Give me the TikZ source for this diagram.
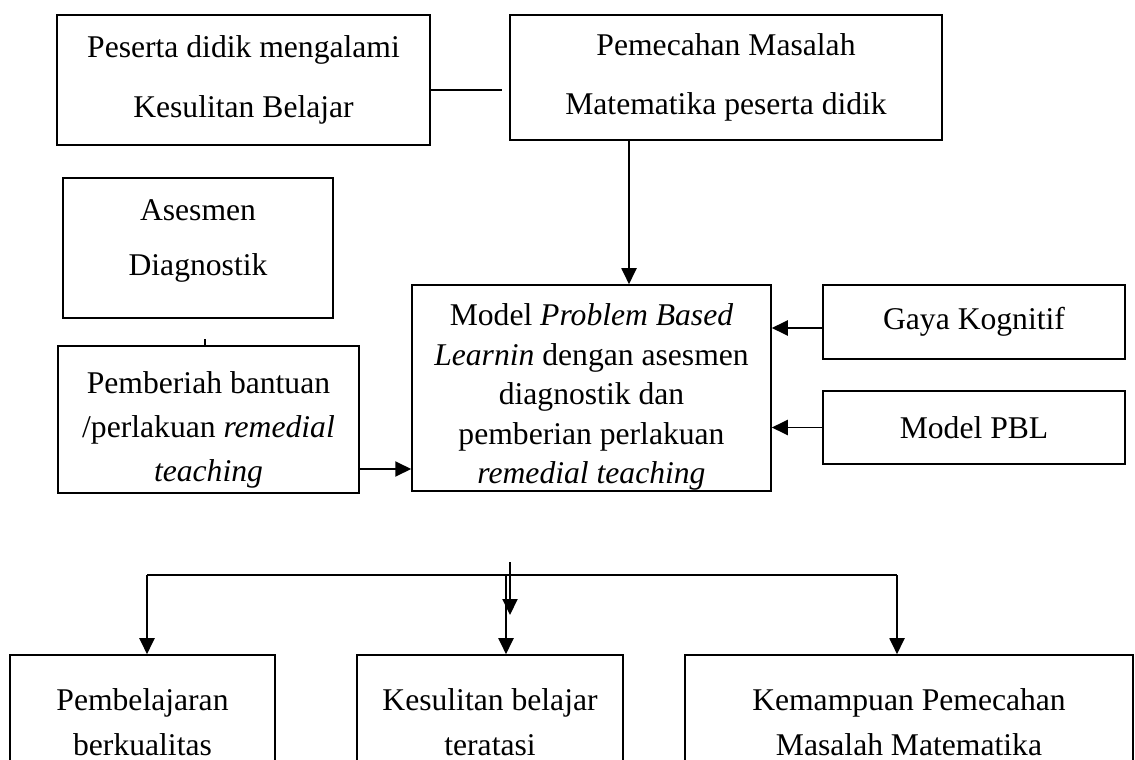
\documentclass[tikz,border=0pt]{standalone}
\usepackage{fontspec}
\setmainfont{Liberation Serif}
\usetikzlibrary{arrows.meta,positioning,calc}

\begin{document}
\begin{tikzpicture}[x=0.02cm,y=-0.02cm,
  box/.style={draw,line width=0.9pt,align=center,inner sep=0pt},
  txt/.style={font=\fontsize{18}{#1}\selectfont},
  inner/.style={txt=#1,align=center},
  lin/.style={line width=1.1pt},
  arr/.style={lin,-{Triangle[length=0.32cm,width=0.3cm]}}]
  \useasboundingbox (0,0) rectangle (1135,760);
  % top row
  \node[box,txt=34pt,minimum width=7.46cm,minimum height=2.6cm] (sulit) at (243.5,80) {Peserta didik mengalami\\Kesulitan Belajar};
  \node[box,txt=34pt,minimum width=8.64cm,minimum height=2.5cm] (masalah) at (726,77.5) {Pemecahan Masalah\\Matematika peserta didik};
  % left column
  \node[box,minimum width=5.4cm,minimum height=2.8cm,
    label={[inner=31pt,yshift=0.14cm]center:{Asesmen\\Diagnostik}}] (asesmen) at (198,248) {};
  \node[box,minimum width=6.02cm,minimum height=2.94cm,
    label={[inner=25pt,yshift=-0.2cm]center:{Pemberiah bantuan\\/perlakuan \textit{remedial}\\\textit{teaching}}}] (bantuan) at (208.5,419.5) {};
  % centre and right
  \node[box,minimum width=7.18cm,minimum height=4.12cm,
    label={[inner=22.5pt,yshift=-0.18cm]center:{Model \textit{Problem Based}\\\textit{Learnin} dengan asesmen\\diagnostik dan\\pemberian perlakuan\\\textit{remedial teaching}}}] (model) at (591.5,388) {};
  \node[box,txt=22pt,minimum width=6.04cm,minimum height=1.48cm] (gaya) at (974,322) {Gaya Kognitif};
  \node[box,txt=22pt,minimum width=6.04cm,minimum height=1.46cm] (pbl) at (974,427.5) {Model PBL};
  % outcomes
  \node[box,txt=25.6pt,minimum width=5.3cm,minimum height=2.7cm] (hasil1) at (142.5,722.5) {Pembelajaran\\berkualitas};
  \node[box,txt=25.6pt,minimum width=5.32cm,minimum height=2.7cm] (hasil2) at (490,722.5) {Kesulitan belajar\\teratasi};
  \node[box,txt=25.6pt,minimum width=8.96cm,minimum height=2.7cm] (hasil3) at (909,722.5) {Kemampuan Pemecahan\\Masalah Matematika};

  \draw[lin] ($(sulit.east)+(0,10)$) -- ($(sulit.east -| masalah.west)+(-7,10)$);
  \coordinate (drop) at (629,0);
  \draw[arr] (masalah.south -| drop) -- (model.north -| drop);
  \draw[arr] ($(gaya.west)+(0,6)$) -- ($(gaya.west -| model.east)+(0,6)$);
  \draw[arr] (pbl.west) -- (pbl.west -| model.east);
  \draw[arr] ($(bantuan.east)+(0,49.5)$) -- ($(bantuan.east -| model.west)+(0,49.5)$);
  \draw[lin] ($(bantuan.north)+(-3.5,0)$) -- ++(0,-6);

  % branching to the outcomes
  \coordinate (b1) at (147,575);
  \coordinate (b2) at (506,575);
  \coordinate (b3) at (897,575);
  \coordinate (stub) at (510,562);
  \draw[lin] (b1) -- (b3);
  \draw[arr] (stub) -- ++(0,53);
  \foreach \b/\h in {b1/hasil1,b2/hasil2,b3/hasil3}
    \draw[arr] (\b) -- (\b |- \h.north);
\end{tikzpicture}
\end{document}
